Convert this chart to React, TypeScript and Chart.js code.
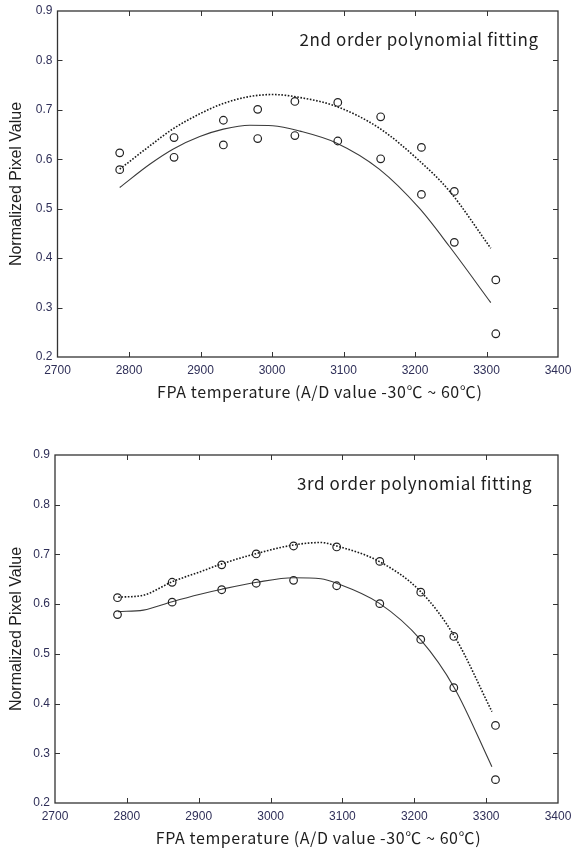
import React, { useEffect, useRef } from "react";
import { Chart, registerables } from "chart.js";

Chart.register(...registerables);

// ---- data ----
const measuredTemp = [2787, 2863, 2932, 2980, 3032, 3092, 3152, 3209, 3255, 3313];
const upperMeasured = [0.613, 0.644, 0.679, 0.701, 0.717, 0.715, 0.686, 0.624, 0.535, 0.356];
const lowerMeasured = [0.579, 0.604, 0.629, 0.642, 0.648, 0.637, 0.601, 0.529, 0.432, 0.247];

const fit2Temp = [2787, 2829, 2862, 2899, 2932, 2969, 3001, 3039, 3090, 3150, 3206, 3248, 3306];
const fit2Upper = [0.58, 0.627, 0.662, 0.692, 0.713, 0.727, 0.731, 0.725, 0.707, 0.663, 0.597, 0.536, 0.42];
const fit2Lower = [0.543, 0.59, 0.621, 0.646, 0.661, 0.669, 0.668, 0.657, 0.633, 0.58, 0.501, 0.424, 0.31];

const fit3Temp = [2788, 2823, 2863, 2902, 2932, 2981, 3032, 3070, 3092, 3151, 3209, 3256, 3308];
const fit3Upper = [0.614, 0.618, 0.645, 0.665, 0.681, 0.702, 0.719, 0.724, 0.717, 0.686, 0.625, 0.535, 0.384];
const fit3Lower = [0.585, 0.588, 0.605, 0.62, 0.63, 0.644, 0.653, 0.651, 0.642, 0.602, 0.528, 0.431, 0.273];

const xTickValues = [2700, 2800, 2900, 3000, 3100, 3200, 3300, 3400];
const yTickValues = [0.2, 0.3, 0.4, 0.5, 0.6, 0.7, 0.8, 0.9];

const xAxisTitle = "FPA temperature (A/D value -30\u2103 ~ 60\u2103)";
const yAxisTitle = "Normalized Pixel Value";
const label2 = "2nd order polynomial fitting";
const label3 = "3rd order polynomial fitting";

const tickColor = "#2f2f58";
const inkColor = "#1e1e1e";

const toPoints = (xs: number[], ys: number[]) => xs.map((x, i) => ({ x, y: ys[i] }));

const framePlugin = {
  id: "frame",
  afterDraw(chart: any, _args: any, opts: any) {
    const { ctx, chartArea: a, scales } = chart;
    const xs = scales.x;
    const ys = scales.y;
    ctx.save();
    ctx.strokeStyle = "#333333";
    ctx.lineWidth = 1.3;
    ctx.strokeRect(a.left, a.top, a.right - a.left, a.bottom - a.top);
    const len = 5;
    ctx.lineWidth = 1;
    ctx.beginPath();
    xTickValues.slice(1, -1).forEach((v) => {
      const px = Math.round(xs.getPixelForValue(v)) + 0.5;
      ctx.moveTo(px, a.bottom);
      ctx.lineTo(px, a.bottom - len);
      ctx.moveTo(px, a.top);
      ctx.lineTo(px, a.top + len);
    });
    yTickValues.slice(1, -1).forEach((v) => {
      const py = Math.round(ys.getPixelForValue(v)) + 0.5;
      ctx.moveTo(a.left, py);
      ctx.lineTo(a.left + len, py);
      ctx.moveTo(a.right, py);
      ctx.lineTo(a.right - len, py);
    });
    ctx.stroke();

    ctx.fillStyle = inkColor;
    ctx.textBaseline = "middle";
    ctx.font = '16px "Noto Sans CJK KR", "Noto Sans", sans-serif';
    try {
      ctx.letterSpacing = "0.6px";
    } catch (e) {}
    ctx.textAlign = "center";
    ctx.fillText(xAxisTitle, (a.left + a.right) / 2 + 12, a.bottom + 35);

    ctx.font = '17px "Noto Sans CJK KR", "Noto Sans", sans-serif';
    ctx.textAlign = "left";
    ctx.fillText(opts.label, a.left + 242, a.top + 29);
    ctx.restore();
  },
};

type Props = {
  height: number;
  plotTop: number;
  plotBottom: number;
  plotLeft: number;
  fitTemp: number[];
  fitUpper: number[];
  fitLower: number[];
  label: string;
};

function FitChart({ height, plotTop, plotBottom, plotLeft, fitTemp, fitUpper, fitLower, label }: Props) {
  const ref = useRef<HTMLCanvasElement>(null);
  useEffect(() => {
    if (!ref.current) return;
    const pointStyleOpts = {
      showLine: false,
      pointStyle: "circle",
      pointRadius: 3.8,
      pointBorderWidth: 1.2,
      pointBorderColor: "#222222",
      pointBackgroundColor: "rgba(0,0,0,0)",
    };
    const chart = new Chart(ref.current, {
      type: "scatter",
      data: {
        datasets: [
          { label: "upper measured", data: toPoints(measuredTemp, upperMeasured), ...pointStyleOpts },
          { label: "lower measured", data: toPoints(measuredTemp, lowerMeasured), ...pointStyleOpts },
          {
            label: "upper fit",
            data: toPoints(fitTemp, fitUpper),
            showLine: true,
            pointRadius: 0,
            borderColor: "#1a1a1a",
            borderWidth: 1.6,
            borderDash: [1.6, 1.6],
            cubicInterpolationMode: "monotone",
          },
          {
            label: "lower fit",
            data: toPoints(fitTemp, fitLower),
            showLine: true,
            pointRadius: 0,
            borderColor: "#3a3a3a",
            borderWidth: 1.1,
            cubicInterpolationMode: "monotone",
          },
        ],
      },
      options: {
        responsive: false,
        animation: false,
        layout: { padding: { top: plotTop, right: 13, left: 0, bottom: 0 } },
        plugins: {
          legend: { display: false },
          tooltip: { enabled: false },
          // @ts-ignore
          frame: { label },
        },
        scales: {
          x: {
            type: "linear",
            min: 2700,
            max: 3400,
            grid: { display: false, drawTicks: false },
            border: { display: false },
            afterBuildTicks: (s: any) => {
              s.ticks = xTickValues.map((v) => ({ value: v }));
            },
            afterFit: (s: any) => {
              s.height = height - plotBottom;
              s.paddingLeft = 0;
              s.paddingRight = 0;
            },
            ticks: {
              autoSkip: false,
              maxRotation: 0,
              padding: 6,
              color: tickColor,
              font: { family: '"Liberation Sans", Arial, sans-serif', size: 12 },
              callback: (v: any) => String(v),
            },
          },
          y: {
            type: "linear",
            min: 0.2,
            max: 0.9,
            grid: { display: false, drawTicks: false },
            border: { display: false },
            afterBuildTicks: (s: any) => {
              s.ticks = yTickValues.map((v) => ({ value: v }));
            },
            afterFit: (s: any) => {
              s.width = plotLeft;
              s.paddingTop = 0;
              s.paddingBottom = 0;
            },
            ticks: {
              autoSkip: false,
              padding: 5,
              color: tickColor,
              font: { family: '"Liberation Sans", Arial, sans-serif', size: 12 },
              callback: (v: any) => Number(v).toFixed(1),
            },
            title: {
              display: true,
              text: yAxisTitle,
              color: inkColor,
              padding: { top: 7, bottom: 0 },
              font: { family: '"Liberation Sans", Arial, sans-serif', size: 16 },
            },
          },
        },
      },
      plugins: [framePlugin],
    } as any);
    return () => chart.destroy();
  }, []);
  return (
    <canvas
      ref={ref}
      width={571}
      height={height}
      style={{ display: "block", width: 571, height }}
    />
  );
}

export default function App() {
  return (
    <div style={{ position: "absolute", left: 0, top: 0, width: 571, height: 853, background: "#fff" }}>
      <FitChart
        height={430}
        plotTop={11}
        plotBottom={357}
        plotLeft={57.5}
        fitTemp={fit2Temp}
        fitUpper={fit2Upper}
        fitLower={fit2Lower}
        label={label2}
      />
      <FitChart
        height={423}
        plotTop={25}
        plotBottom={373}
        plotLeft={55}
        fitTemp={fit3Temp}
        fitUpper={fit3Upper}
        fitLower={fit3Lower}
        label={label3}
      />
    </div>
  );
}
